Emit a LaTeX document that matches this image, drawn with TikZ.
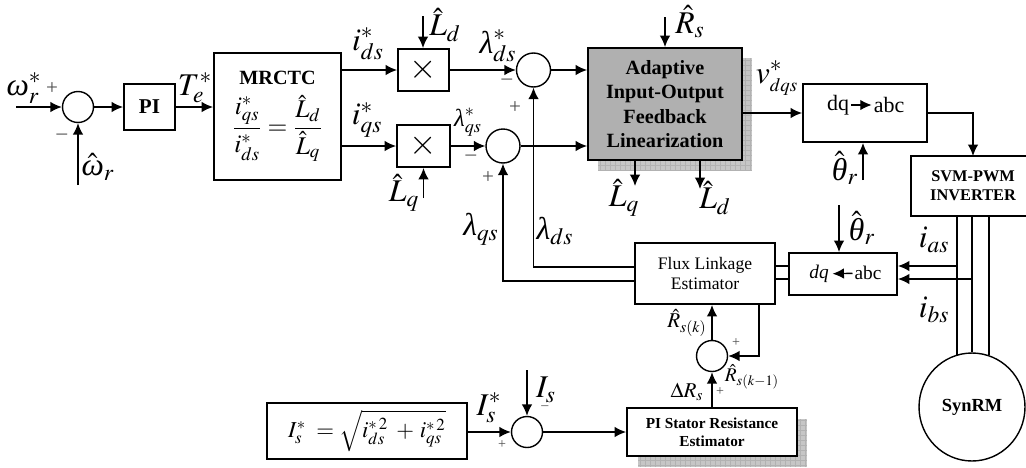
\documentclass[tikz,border=0pt]{standalone}
\usepackage{amsmath}
\usepackage{mathptmx}
\usepackage{fontspec}
\setmainfont{Liberation Serif}
\usetikzlibrary{arrows.meta,shapes.geometric}

\definecolor{blockgray}{HTML}{B0B0B0}
\definecolor{shadegray}{HTML}{C6C6C6}
\definecolor{shadeline}{HTML}{B2B2B2}

\newcommand{\grw}{\text{\itshape ω}}
\newcommand{\grl}{\text{\itshape λ}}
\newcommand{\grt}{\text{\itshape θ}}

\tikzset{
    >={Latex[length=6.5pt,width=6pt]},
    blk/.style={draw,line width=1.1pt,inner sep=0pt,align=center,font=\fontsize{10}{11.5}\selectfont},
    sumj/.style={draw,circle,line width=0.8pt,inner sep=0pt,minimum size=0.62cm},
    sumbig/.style={sumj,minimum size=0.68cm},
    conn/.style={line width=0.8pt},
    lab/.style={inner sep=0pt,font=\fontsize{18}{20}\selectfont},
    midlab/.style={inner sep=0pt,font=\fontsize{14}{16}\selectfont},
    smalllab/.style={inner sep=0pt,font=\fontsize{12}{14}\selectfont},
    sgn/.style={inner sep=0pt,font=\fontsize{12}{12}\selectfont,text=black!70},
    tinysgn/.style={sgn,font=\fontsize{8}{8}\selectfont},
    txt/.style={inner sep=0pt,font=\fontsize{12.5}{14}\selectfont},
    shade/.style={fill=shadegray},
    shadegrid/.style={shadeline,line width=0.2pt,step=0.1cm}
}

\begin{document}
\begin{tikzpicture}[x=0.02cm,y=-0.02cm]
    \useasboundingbox (0,0) rectangle (1026,467);

    % shadows
    \fill[shade] (598,58) rectangle (752,170);
    \draw[shadegrid] (598,58) grid (752,170);
    \fill[shade] (638,419) rectangle (807,467);
    \draw[shadegrid] (638,419) grid (807,467);

    % blocks
    \node[blk,minimum width=1.02cm,minimum height=0.92cm,font=\fontsize{12}{14}\selectfont\bfseries] (pi) at (149.5,107) {PI};
    \node[blk,minimum width=2.54cm,minimum height=2.54cm,font=\fontsize{14.5}{16}\selectfont] (mrctc) at (277.5,116.5)
        {{\fontsize{11.5}{14}\selectfont\textbf{MRCTC}}\\[5pt]$\dfrac{i^{*}_{qs}}{i^{*}_{ds}}=\dfrac{\hat{L}_{d}}{\hat{L}_{q}}$};
    \node[blk,minimum width=1.02cm,minimum height=0.84cm,font=\fontsize{20}{20}\selectfont] (mult1) at (423.5,70) {$\times$};
    \node[blk,minimum width=1.06cm,minimum height=0.84cm,font=\fontsize{20}{20}\selectfont] (mult2) at (423.5,146) {$\times$};
    \node[blk,fill=blockgray,minimum width=3.08cm,minimum height=2.24cm,font=\fontsize{11.5}{13.8}\selectfont\bfseries] (adaptive) at (665,104)
        {Adaptive\\Input-Output\\Feedback\\Linearization};
    \node[blk,minimum width=2.48cm,minimum height=1.16cm] (dqabc) at (865,113) {};
    \node[blk,minimum width=2.48cm,minimum height=1.2cm,font=\fontsize{9.3}{10.8}\selectfont\bfseries] (svm) at (973,186) {SVM-PWM\\INVERTER};
    \node[blk,minimum width=2.8cm,minimum height=1.22cm,font=\fontsize{10}{11.5}\selectfont] (flux) at (705,273.5) {Flux Linkage\\Estimator};
    \node[blk,minimum width=2.16cm,minimum height=0.84cm] (abcdq) at (843,274) {};
    \node[blk,fill=white,minimum width=3.4cm,minimum height=0.96cm,font=\fontsize{8.7}{10.4}\selectfont\bfseries] (stator) at (712,432) {PI Stator Resistance\\Estimator};
    \node[blk,minimum width=4cm,minimum height=1.12cm,font=\fontsize{13}{15}\selectfont] (isbox) at (367,431)
        {$I^{*}_{s}\;=\sqrt{i^{*\,2}_{ds}\;+\,i^{*\,2}_{qs}}$};
    \node[draw,ellipse,line width=0.8pt,inner sep=0pt,minimum width=2.12cm,minimum height=2.16cm,font=\fontsize{10.5}{12}\selectfont\bfseries] (synrm) at (972,407) {SynRM};

    % summing junctions
    \node[sumj] (sum1) at (78,107) {};
    \node[sumbig] (sum2) at (533.5,70) {};
    \node[sumbig] (sum3) at (503,146) {};
    \node[sumj] (sum4) at (712,356) {};
    \node[sumj] (sum5) at (527,432) {};

    % free ends
    \coordinate (wref) at (16,107);
    \coordinate (wfb) at (78,185);
    \coordinate (ldin) at (423,16);
    \coordinate (lqin) at (423.5,198);
    \coordinate (rsin) at (665,17);
    \coordinate (thtop) at (863,180);
    \coordinate (thlow) at (839,205);
    \coordinate (lqout) at (635,186);
    \coordinate (ldout) at (700,189);
    \coordinate (isin) at (527,370);
    \coordinate (iafrom) at (957,266);
    \coordinate (ibfrom) at (972,279);
    \coordinate (svmin) at (973,156);
    \coordinate (fbout) at (759,304);
    \coordinate (dsbend) at (533.5,267);
    \coordinate (qsbend) at (503,281);
    \coordinate (linea) at (957,216);
    \coordinate (linec) at (989,216);

    % connectors
    \draw[->,conn] (wref) -- (sum1.west);
    \draw[->,conn] (wfb) -- (sum1.south);
    \draw[->,conn] (sum1.east) -- (pi.west);
    \draw[->,conn] (pi.east) -- (mrctc.west |- pi.east);
    \draw[->,conn] (mrctc.east |- mult1.west) -- (mult1.west);
    \draw[->,conn] (mrctc.east |- mult2.west) -- (mult2.west);
    \draw[->,conn] (ldin) -- (ldin |- mult1.north);
    \draw[->,conn] (lqin) -- (lqin |- mult2.south);
    \draw[->,conn] (mult1.east) -- (sum2.west);
    \draw[->,conn] (mult2.east) -- (sum3.west);
    \draw[->,conn] (sum2.east) -- (sum2.east -| adaptive.west);
    \draw[->,conn] (sum3.east) -- (sum3.east -| adaptive.west);
    \draw[->,conn] (rsin) -- (adaptive.north);
    \draw[->,conn] (lqout |- adaptive.south) -- (lqout);
    \draw[->,conn] (ldout |- adaptive.south) -- (ldout);
    \draw[->,conn] (adaptive.east |- dqabc.west) -- (dqabc.west);
    \draw[->,conn] (thtop) -- (thtop |- dqabc.south);
    \draw[->,conn] (dqabc.east) -| (svmin);
    \draw[->,conn] (thlow) -- (thlow |- abcdq.north);
    \draw[->,conn] (iafrom) -- (iafrom -| abcdq.east);
    \draw[->,conn] (ibfrom) -- (ibfrom -| abcdq.east);
    \draw[conn] (iafrom -| flux.east) -- (iafrom -| abcdq.west);
    \draw[conn] (ibfrom -| flux.east) -- (ibfrom -| abcdq.west);
    \draw[->,conn] (flux.west |- dsbend) -- (dsbend) -- (sum2.south);
    \draw[->,conn] (flux.west |- qsbend) -- (qsbend) -- (sum3.south);
    \draw[->,conn] (sum4.north) -- (sum4.north |- flux.south);
    \draw[->,conn] (fbout) |- (sum4.east);
    \draw[->,conn] (sum4.south |- stator.north) -- (sum4.south);
    \draw[->,conn] (isbox.east |- sum5.west) -- (sum5.west);
    \draw[->,conn] (isin) -- (sum5.north);
    \draw[->,conn] (sum5.east) -- (sum5.east -| stator.west);
    \draw[conn] (linea) -- (linea |- synrm.106);
    \draw[conn] (svm.south -| synrm.north) -- (synrm.north);
    \draw[conn] (linec) -- (linec |- synrm.71);

    % text inside the conversion blocks
    \node[txt] (dq1) at (838,105) {dq};
    \node[txt] (abc1) at (889,105) {abc};
    \draw[->,conn,shorten <=1pt,shorten >=1pt] (dq1) -- (abc1);
    \node[txt,font=\fontsize{11}{13}\selectfont] (dq2) at (819,274) {\textit{dq}};
    \node[txt,font=\fontsize{11}{13}\selectfont] (abc2) at (868,273) {abc};
    \draw[->,conn,shorten <=1pt,shorten >=2pt] (abc2) -- (dq2);

    % signal labels
    \node[lab] (lbwref) at (24,88) {$\grw^{*}_{r}$};
    \node[lab] (lbwfb) at (98,167) {$\hat{\grw}_{r}$};
    \node[lab] (lbte) at (195,88) {$T^{*}_{e}$};
    \node[lab] (lbids) at (368,44) {$i^{*}_{ds}$};
    \node[lab] (lbiqs) at (367,120) {$i^{*}_{qs}$};
    \node[lab] (lbld) at (445,25) {$\hat{L}_{d}$};
    \node[lab] (lblq) at (404,193) {$\hat{L}_{q}$};
    \node[lab] (lblds) at (498,46) {$\grl^{*}_{ds}$};
    \node[midlab] (lblqs) at (468,122) {$\grl^{*}_{qs}$};
    \node[lab] (lbqsfb) at (481,229) {$\grl_{qs}$};
    \node[lab] (lbdsfb) at (555,231) {$\grl_{ds}$};
    \node[lab] (lbrs) at (690,22) {$\hat{R}_{s}$};
    \node[lab] (lbvdq) at (777,78) {$v^{*}_{\scriptscriptstyle dqs}$};
    \node[lab] (lblq2) at (624,198) {$\hat{L}_{q}$};
    \node[lab] (lbld2) at (715,198) {$\hat{L}_{d}$};
    \node[lab] (lbth1) at (845,168) {$\hat{\grt}_{r}$};
    \node[lab] (lbth2) at (862,228) {$\hat{\grt}_{r}$};
    \node[lab] (lbias) at (934,240) {$i_{as}$};
    \node[lab] (lbibs) at (934,310) {$i_{bs}$};
    \node[smalllab] (lbrk) at (687,323) {$\hat{R}_{s(k)}$};
    \node[smalllab,font=\fontsize{11}{13}\selectfont] (lbrk1) at (752,377) {$\hat{R}_{s(k-1)}$};
    \node[smalllab] (lbdr) at (687,392) {$\Delta R_{s}$};
    \node[lab] (lbisr) at (489,408) {$I^{*}_{s}$};
    \node[lab] (lbis) at (546,390) {$I_{s}$};

    % signs
    \node[sgn] (pl1) at (52,89) {+};
    \node[sgn] (mi1) at (62,137) {--};
    \node[sgn] (mi2) at (507,82) {--};
    \node[sgn] (pl2) at (515,108) {+};
    \node[sgn] (mi3) at (471,158) {--};
    \node[sgn] (pl3) at (488,178) {+};
    \node[tinysgn] (pl4) at (736,343) {+};
    \node[tinysgn] (pl5) at (720,392) {+};
    \node[tinysgn] (mi5) at (545,408) {--};
    \node[tinysgn] (pl6) at (502,445) {+};
\end{tikzpicture}
\end{document}
